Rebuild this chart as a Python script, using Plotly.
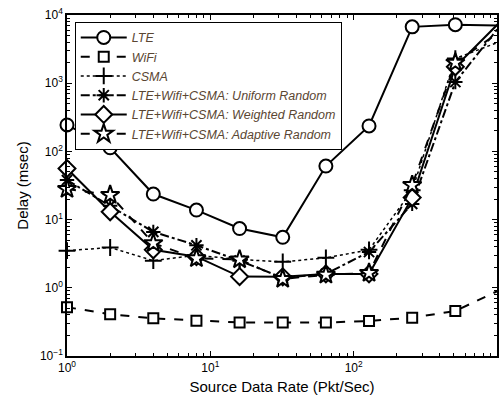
import plotly.graph_objects as go

rates = [1, 2, 4, 8, 16, 32, 64, 128, 256, 512, 1024]

series_names = [
    "LTE",
    "WiFi",
    "CSMA",
    "LTE+Wifi+CSMA: Uniform Random",
    "LTE+Wifi+CSMA: Weighted Random",
    "LTE+Wifi+CSMA: Adaptive Random",
]

lte = [244, 113, 23.7, 13.8, 7.4, 5.5, 61, 236, 6700, 7200, 7000]
wifi = [0.52, 0.41, 0.357, 0.33, 0.31, 0.31, 0.31, 0.326, 0.365, 0.457, 0.91]
csma = [3.5, 3.9, 2.5, 3.0, 2.6, 2.4, 2.75, 3.6, 27, 2300, 4000]
uniform = [38, 16, 6.6, 4.2, 2.5, 1.4, 1.6, 3.35, 17, 1040, 6500]
weighted = [56, 13, 3.6, 2.86, 1.46, 1.45, 1.6, 1.6, 21, 1740, 7500]
adaptive = [28, 23, 4.5, 2.7, 2.6, 1.35, 1.55, 1.65, 32, 2000, 5500]

x_tickvals = [1, 10, 100, 1000]
x_ticktext = ["10<sup>0</sup>", "10<sup>1</sup>", "10<sup>2</sup>", "10<sup>3</sup>"]
y_tickvals = [0.1, 1, 10, 100, 1000, 10000]
y_ticktext = ["10<sup>\u22121</sup>", "10<sup>0</sup>", "10<sup>1</sup>",
              "10<sup>2</sup>", "10<sup>3</sup>", "10<sup>4</sup>"]

values = [lte, wifi, csma, uniform, weighted, adaptive]
styles = [
    dict(dash="solid", symbol="circle", size=13, width=2),
    dict(dash="dash", symbol="square", size=10, width=2),
    dict(dash="dot", symbol="cross-thin-open", size=12, width=1.5),
    dict(dash="dashdot", symbol="asterisk-open", size=12, width=2),
    dict(dash="solid", symbol="diamond", size=13, width=2),
    dict(dash="dash", symbol="star", size=14, width=2),
]

fig = go.Figure()
for name, ys, st in zip(series_names, values, styles):
    open_sym = st["symbol"].endswith("-open")
    fig.add_trace(go.Scatter(
        x=rates, y=ys, name=name, mode="lines+markers", cliponaxis=False,
        line=dict(color="black", width=st["width"], dash=st["dash"]),
        marker=dict(symbol=st["symbol"], size=st["size"],
                    color="black" if open_sym else "white",
                    line=dict(color="black", width=2),
                    opacity=1),
    ))

axis_common = dict(
    type="log", showgrid=False, zeroline=False, showline=True, automargin=False,
    linecolor="black", linewidth=1.5, mirror="ticks",
    ticks="inside", ticklen=5, tickwidth=1, tickcolor="black",
    tickfont=dict(family="Liberation Sans, Arial", size=12, color="black"),
    minor=dict(ticks="inside", ticklen=3, dtick="D1", tickcolor="black", showgrid=False),
)

fig.update_layout(
    width=499, height=403,
    margin=dict(l=67, r=2, t=15, b=47),
    plot_bgcolor="white", paper_bgcolor="white",
    font=dict(family="Liberation Sans, Arial", color="black"),
    xaxis=dict(range=[0, 3], tickmode="array", tickvals=x_tickvals, ticktext=x_ticktext,
               title=dict(text="Source Data Rate (Pkt/Sec)",
                          font=dict(size=15, color="black"), standoff=7),
               **axis_common),
    yaxis=dict(range=[-1, 4], tickmode="array", tickvals=y_tickvals, ticktext=y_ticktext,
               title=dict(text="Delay (msec)", font=dict(size=15, color="black"), standoff=8),
               **axis_common),
    showlegend=True,
    legend=dict(
        x=0.018, y=0.98, xanchor="left", yanchor="top",
        bgcolor="white", bordercolor="black", borderwidth=1,
        font=dict(family="Liberation Sans, Arial", size=12.5, color="#5a4632", style="italic"),
        tracegroupgap=0, itemwidth=46,
    ),
)

fig.write_html("out.html", config={"displayModeBar": False},
               post_script="document.body.style.margin='0';")
